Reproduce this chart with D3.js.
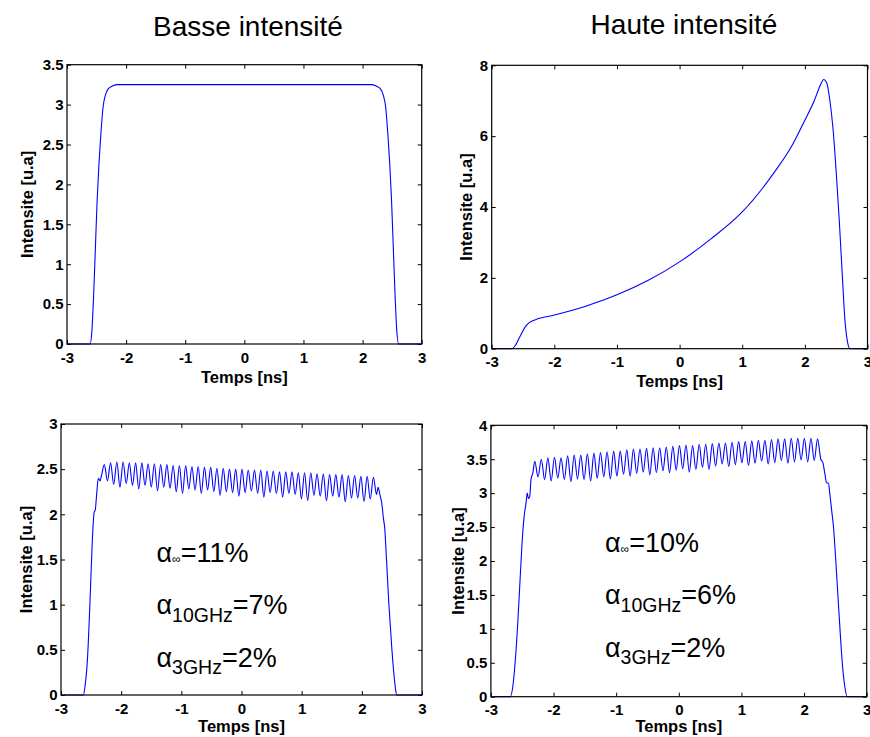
<!DOCTYPE html>
<html>
<head>
<meta charset="utf-8">
<script src="https://cdn.jsdelivr.net/npm/d3@7"></script>
<style>
  html, body { margin: 0; padding: 0; background: #fff; }
  svg { display: block; font-family: "Liberation Sans", Arial, Helvetica, sans-serif; }
  .tick text { font-weight: bold; font-size: 15px; fill: #000; }
  .tick line { stroke: #000; stroke-width: 1; }
</style>
</head>
<body>
<svg id="fig" width="870" height="737"></svg>
<script>
// ---- data -------------------------------------------------------------
const xTicks = [-3, -2, -1, 0, 1, 2, 3];
const yTicksTL = [0, 0.5, 1, 1.5, 2, 2.5, 3, 3.5];
const yTicksTR = [0, 2, 4, 6, 8];
const yTicksBL = [0, 0.5, 1, 1.5, 2, 2.5, 3];
const yTicksBR = [0, 0.5, 1, 1.5, 2, 2.5, 3, 3.5, 4];

const columnTitles = ["Basse intensité", "Haute intensité"];

// low intensity, no modulation: [time ns, intensity]
const pulseLow = [
  [-3, 0], [-2.61, 0], [-2.58, 0.15], [-2.55, 0.6], [-2.52, 1.2], [-2.49, 1.8],
  [-2.46, 2.25], [-2.43, 2.6], [-2.39, 2.97], [-2.35, 3.12], [-2.3, 3.2],
  [-2.24, 3.23], [-2.16, 3.25], [2.16, 3.25], [2.24, 3.23], [2.3, 3.2],
  [2.35, 3.12], [2.39, 2.97], [2.43, 2.6], [2.46, 2.25], [2.49, 1.8],
  [2.52, 1.2], [2.55, 0.6], [2.58, 0.15], [2.61, 0], [3, 0]
];

// high intensity, no modulation
const pulseHigh = [
  [-3, 0], [-2.68, 0], [-2.62, 0.1], [-2.55, 0.34], [-2.45, 0.65], [-2.39, 0.75],
  [-2.3, 0.82], [-2.0, 0.95], [-1.5, 1.2], [-1.0, 1.52], [-0.5, 1.93],
  [0, 2.45], [0.5, 3.1], [1.0, 3.86], [1.5, 4.95], [1.8, 5.75], [2.0, 6.45],
  [2.15, 7.0], [2.25, 7.45], [2.3, 7.6], [2.35, 7.5], [2.4, 7.0], [2.45, 6.2],
  [2.5, 5.0], [2.55, 3.6], [2.6, 2.0], [2.64, 0.8], [2.68, 0.2], [2.72, 0], [3, 0]
];

// low intensity, modulated: rising edge, ripple extrema, falling edge
const modLowRise = [
  [-3, 0], [-2.63, 0], [-2.6, 0.1], [-2.56, 0.4], [-2.52, 1.0], [-2.48, 1.7],
  [-2.45, 2.02], [-2.43, 2.05], [-2.41, 2.2], [-2.38, 2.4], [-2.35, 2.37], [-2.33, 2.42]
];
const modLowStart = -2.28;   // time of first ripple peak (ns)
const modLowPeriod = 0.104;  // ripple period (ns)
const modLowPeaks = [
  2.55, 2.57, 2.58, 2.58, 2.57, 2.57, 2.57, 2.56, 2.56, 2.55,
  2.55, 2.54, 2.54, 2.54, 2.53, 2.53, 2.52, 2.52, 2.51, 2.51,
  2.50, 2.50, 2.50, 2.49, 2.49, 2.49, 2.48, 2.48, 2.47, 2.47,
  2.47, 2.46, 2.46, 2.46, 2.45, 2.45, 2.44, 2.44, 2.44, 2.43,
  2.43, 2.42, 2.42, 2.41
];
const modLowTroughs = [
  2.37, 2.33, 2.30, 2.34, 2.32, 2.28, 2.32, 2.30, 2.26, 2.30,
  2.29, 2.25, 2.23, 2.28, 2.27, 2.23, 2.27, 2.25, 2.21, 2.25,
  2.24, 2.20, 2.24, 2.26, 2.23, 2.19, 2.24, 2.23, 2.19, 2.23,
  2.22, 2.17, 2.15, 2.21, 2.20, 2.15, 2.20, 2.19, 2.14, 2.18,
  2.18, 2.14, 2.17, 2.22
];
const modLowFall = [
  [2.27, 2.3], [2.3, 2.22], [2.33, 2.13], [2.36, 1.95], [2.38, 1.85], [2.41, 1.5],
  [2.45, 1.0], [2.5, 0.5], [2.55, 0.12], [2.58, 0], [3, 0]
];

// high intensity, modulated
const modHighRise = [
  [-3, 0], [-2.69, 0], [-2.65, 0.15], [-2.61, 0.54], [-2.57, 1.1], [-2.53, 1.8],
  [-2.5, 2.3], [-2.47, 2.65], [-2.44, 2.85], [-2.42, 3.0], [-2.4, 2.92],
  [-2.38, 2.95], [-2.36, 3.2], [-2.33, 3.3]
];
const modHighStart = -2.3;
const modHighPeriod = 0.105;
const modHighPeaks = [
  3.47, 3.50, 3.52, 3.53, 3.52, 3.55, 3.56, 3.56, 3.58, 3.59,
  3.60, 3.61, 3.62, 3.62, 3.64, 3.65, 3.65, 3.66, 3.67, 3.67,
  3.68, 3.69, 3.70, 3.71, 3.70, 3.72, 3.72, 3.73, 3.74, 3.74,
  3.75, 3.76, 3.76, 3.77, 3.78, 3.78, 3.79, 3.80, 3.80, 3.81,
  3.81, 3.81, 3.81, 3.80
];
const modHighTroughs = [
  3.24, 3.20, 3.18, 3.22, 3.20, 3.17, 3.21, 3.20, 3.18, 3.22,
  3.24, 3.21, 3.25, 3.28, 3.25, 3.29, 3.31, 3.27, 3.30, 3.33,
  3.30, 3.34, 3.36, 3.31, 3.35, 3.38, 3.35, 3.40, 3.43, 3.39,
  3.42, 3.45, 3.41, 3.44, 3.47, 3.43, 3.45, 3.48, 3.44, 3.46,
  3.49, 3.46, 3.48, 3.50
];
const modHighFall = [
  [2.3, 3.45], [2.33, 3.3], [2.36, 3.15], [2.39, 3.15], [2.41, 3.0], [2.44, 2.75],
  [2.47, 2.5], [2.5, 2.1], [2.54, 1.5], [2.58, 0.9], [2.61, 0.5], [2.65, 0.15],
  [2.69, 0], [3, 0]
];

// modulation depth annotations: [symbol subscript, value]
const alphaLow = [["∞", "11%"], ["10GHz", "7%"], ["3GHz", "2%"]];
const alphaHigh = [["∞", "10%"], ["10GHz", "6%"], ["3GHz", "2%"]];

// ---- assemble modulated traces ----------------------------------------
function rippleTrace(rise, start, period, peaks, troughs, fall) {
  const pts = rise.slice();
  peaks.forEach((p, i) => {
    pts.push([start + i * period, p]);
    pts.push([start + (i + 0.5) * period, troughs[i]]);
  });
  return pts.concat(fall);
}
const modLow = rippleTrace(modLowRise, modLowStart, modLowPeriod, modLowPeaks, modLowTroughs, modLowFall);
const modHigh = rippleTrace(modHighRise, modHighStart, modHighPeriod, modHighPeaks, modHighTroughs, modHighFall);

// ---- drawing ----------------------------------------------------------
const svg = d3.select("#fig");

const panels = [
  { box: [67, 64.7, 421.7, 344], ymax: 3.5, yTicks: yTicksTL, data: pulseLow, labelX: 33, labelDy: 39 },
  { box: [491.7, 65.3, 867.5, 348.7], ymax: 8, yTicks: yTicksTR, data: pulseHigh, labelX: 471.5, labelDy: 38 },
  { box: [61, 424, 422, 695], ymax: 3, yTicks: yTicksBL, data: modLow, labelX: 32, labelDy: 37,
    alpha: alphaLow, ax: 156.5, ay: [561.7, 614, 666.7] },
  { box: [490.9, 425.3, 866.7, 696.7], ymax: 4, yTicks: yTicksBR, data: modHigh, labelX: 464, labelDy: 35.5,
    alpha: alphaHigh, ax: 605, ay: [551.7, 604, 656.7] }
];

const fmt = d => String(d);

panels.forEach(p => {
  const [x0, y0, x1, y1] = p.box;
  const x = d3.scaleLinear().domain([-3, 3]).range([x0, x1]);
  const y = d3.scaleLinear().domain([0, p.ymax]).range([y1, y0]);
  const g = svg.append("g");

  // axes with inward ticks on all four sides
  const bottom = g.append("g").attr("transform", `translate(0,${y1})`)
    .call(d3.axisBottom(x).tickValues(xTicks).tickFormat(fmt).tickSize(-4).tickPadding(8));
  const top = g.append("g").attr("transform", `translate(0,${y0})`)
    .call(d3.axisTop(x).tickValues(xTicks).tickFormat("").tickSize(-4));
  const left = g.append("g").attr("transform", `translate(${x0},0)`)
    .call(d3.axisLeft(y).tickValues(p.yTicks).tickFormat(fmt).tickSize(-4).tickPadding(3.5));
  const right = g.append("g").attr("transform", `translate(${x1},0)`)
    .call(d3.axisRight(y).tickValues(p.yTicks).tickFormat("").tickSize(-4));
  [bottom, top, left, right].forEach(a => {
    a.select(".domain").remove();
    a.attr("font-family", null).attr("font-size", null);
  });

  // trace
  const line = d3.line().x(d => x(d[0])).y(d => y(d[1])).curve(d3.curveMonotoneX);
  g.append("path").datum(p.data)
    .attr("d", line)
    .attr("fill", "none")
    .attr("stroke", "#0000ff")
    .attr("stroke-width", 1.1);

  // frame
  g.append("rect")
    .attr("x", x0).attr("y", y0)
    .attr("width", x1 - x0).attr("height", y1 - y0)
    .attr("fill", "none").attr("stroke", "#000").attr("stroke-width", 1.2);

  // axis labels
  g.append("text")
    .attr("x", (x0 + x1) / 2).attr("y", y1 + p.labelDy)
    .attr("text-anchor", "middle")
    .attr("font-size", 16.5).attr("font-weight", "bold")
    .text("Temps [ns]");
  g.append("text")
    .attr("transform", `translate(${p.labelX},${(y0 + y1) / 2}) rotate(-90)`)
    .attr("text-anchor", "middle")
    .attr("font-size", 16.5).attr("font-weight", "bold")
    .text("Intensite [u.a]");

  // modulation depth annotations
  if (p.alpha) {
    p.alpha.forEach((a, i) => {
      const t = g.append("text")
        .attr("x", p.ax).attr("y", p.ay[i])
        .attr("font-size", 27);
      t.append("tspan").text("α");
      if (a[0] === "∞") {
        t.append("tspan").attr("font-size", 12).attr("dy", 1).text("∞");
        t.append("tspan").attr("dy", -1).text("=" + a[1]);
      } else {
        t.append("tspan").attr("font-size", 19.5).attr("dy", 7.7).text(a[0]);
        t.append("tspan").attr("dy", -7.7).text("=" + a[1]);
      }
    });
  }
});

// column titles
svg.append("text").attr("x", 248).attr("y", 36)
  .attr("text-anchor", "middle").attr("font-size", 28)
  .text(columnTitles[0]);
svg.append("text").attr("x", 684).attr("y", 34)
  .attr("text-anchor", "middle").attr("font-size", 28)
  .text(columnTitles[1]);
</script>
</body>
</html>
